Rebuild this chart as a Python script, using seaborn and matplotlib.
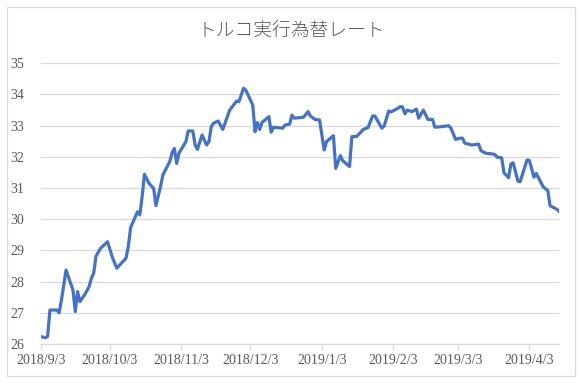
import matplotlib
matplotlib.use("Agg")
import matplotlib.pyplot as plt
import matplotlib.dates as mdates
import matplotlib.patches as mpatches
from matplotlib.ticker import FuncFormatter, FixedLocator
import seaborn as sns
import pandas as pd

# ---- data ----
dates = [
    "2018-09-03", "2018-09-05", "2018-09-06", "2018-09-07", "2018-09-10", "2018-09-11",
    "2018-09-12", "2018-09-14", "2018-09-17", "2018-09-18", "2018-09-19", "2018-09-20",
    "2018-09-22", "2018-09-24", "2018-09-25", "2018-09-26", "2018-09-27", "2018-09-29",
    "2018-10-02", "2018-10-04", "2018-10-06", "2018-10-10", "2018-10-11", "2018-10-12",
    "2018-10-15", "2018-10-16", "2018-10-17", "2018-10-18", "2018-10-20", "2018-10-22",
    "2018-10-23", "2018-10-25", "2018-10-26", "2018-10-29", "2018-10-30", "2018-10-31",
    "2018-11-01", "2018-11-02", "2018-11-05", "2018-11-06", "2018-11-08", "2018-11-09",
    "2018-11-10", "2018-11-12", "2018-11-14", "2018-11-15", "2018-11-16", "2018-11-17",
    "2018-11-19", "2018-11-21", "2018-11-24", "2018-11-27", "2018-11-28", "2018-11-30",
    "2018-12-01", "2018-12-04", "2018-12-05", "2018-12-06", "2018-12-07", "2018-12-08",
    "2018-12-11", "2018-12-12", "2018-12-13", "2018-12-17", "2018-12-18", "2018-12-20",
    "2018-12-21", "2018-12-22", "2018-12-26", "2018-12-28", "2018-12-29", "2018-12-31",
    "2019-01-02", "2019-01-04", "2019-01-05", "2019-01-08", "2019-01-09", "2019-01-11",
    "2019-01-12", "2019-01-15", "2019-01-16", "2019-01-18", "2019-01-21", "2019-01-23",
    "2019-01-25", "2019-01-26", "2019-01-29", "2019-01-30", "2019-02-01", "2019-02-02",
    "2019-02-05", "2019-02-06", "2019-02-07", "2019-02-08", "2019-02-09", "2019-02-11",
    "2019-02-13", "2019-02-14", "2019-02-16", "2019-02-18", "2019-02-20", "2019-02-21",
    "2019-02-24", "2019-02-27", "2019-02-28", "2019-03-02", "2019-03-04", "2019-03-05",
    "2019-03-06", "2019-03-09", "2019-03-12", "2019-03-13", "2019-03-15", "2019-03-19",
    "2019-03-20", "2019-03-22", "2019-03-23", "2019-03-25", "2019-03-26", "2019-03-27",
    "2019-03-29", "2019-03-30", "2019-04-02", "2019-04-03", "2019-04-05", "2019-04-06",
    "2019-04-09", "2019-04-11", "2019-04-12", "2019-04-15", "2019-04-16",
]
rates = [
    26.24, 26.20, 26.24, 27.09, 27.09, 27.00,
    27.41, 28.37, 27.73, 27.04, 27.68, 27.36,
    27.57, 27.84, 28.11, 28.27, 28.82, 29.07,
    29.28, 28.80, 28.43, 28.75, 29.12, 29.73,
    30.24, 30.14, 30.72, 31.44, 31.15, 30.99,
    30.44, 31.05, 31.42, 31.85, 32.13, 32.27,
    31.79, 32.12, 32.49, 32.83, 32.83, 32.38,
    32.24, 32.70, 32.38, 32.49, 32.97, 33.08,
    33.15, 32.88, 33.50, 33.79, 33.77, 34.20,
    34.14, 33.66, 32.81, 33.10, 32.88, 33.10,
    33.29, 32.79, 32.95, 32.92, 33.02, 33.05,
    33.34, 33.24, 33.27, 33.45, 33.31, 33.20,
    33.18, 32.22, 32.49, 32.68, 31.63, 32.04,
    31.88, 31.69, 32.65, 32.65, 32.88, 32.94,
    33.31, 33.31, 32.92, 32.99, 33.47, 33.44,
    33.56, 33.61, 33.60, 33.38, 33.50, 33.45,
    33.53, 33.24, 33.50, 33.20, 33.20, 32.95,
    32.97, 33.00, 32.92, 32.56, 32.60, 32.60,
    32.44, 32.38, 32.41, 32.20, 32.12, 32.08,
    31.99, 31.97, 31.49, 31.33, 31.77, 31.81,
    31.23, 31.20, 31.90, 31.89, 31.35, 31.47,
    31.04, 30.92, 30.43, 30.32, 30.24,
]
title_text = "トルコ実行為替レート"
tick_dates = ["2018-09-03", "2018-10-03", "2018-11-03", "2018-12-03",
              "2019-01-03", "2019-02-03", "2019-03-03", "2019-04-03"]
y_ticks = [26, 27, 28, 29, 30, 31, 32, 33, 34, 35]

df = pd.DataFrame({"date": pd.to_datetime(dates), "rate": rates})

sns.set_theme(style="white")
plt.rcParams["font.family"] = ["Liberation Serif", "Noto Sans CJK JP", "DejaVu Sans"]

fig = plt.figure(figsize=(5.82, 3.83), dpi=100)
ax = fig.add_axes([40.7 / 582, 1 - 344 / 383, (559.3 - 40.7) / 582, (344 - 63.3) / 383])

sns.lineplot(data=df, x="date", y="rate", ax=ax, color="#4472C4", linewidth=2.3)

ax.set_xlim(pd.Timestamp("2018-09-03"), pd.Timestamp("2019-04-16"))
ax.set_ylim(26, 35)
ax.set_yticks(y_ticks)
ax.xaxis.set_major_locator(FixedLocator(mdates.date2num(pd.to_datetime(tick_dates))))
ax.xaxis.set_major_formatter(FuncFormatter(
    lambda v, p: (lambda d: f"{d.year}/{d.month}/{d.day}")(mdates.num2date(v))))

ax.grid(axis="y", color="#D9D9D9", linewidth=0.9)
ax.grid(axis="x", visible=False)
ax.set_axisbelow(True)
for s in ["top", "right", "left"]:
    ax.spines[s].set_visible(False)
ax.spines["bottom"].set_color("#D9D9D9")
ax.spines["bottom"].set_linewidth(0.9)
ax.tick_params(axis="x", direction="out", length=4, width=0.9, color="#D9D9D9",
               labelsize=10, labelcolor="#595959", pad=3, bottom=True)
ax.tick_params(axis="y", length=0, labelsize=10, labelcolor="#595959", pad=12)
ax.set_xlabel("")
ax.set_ylabel("")

fig.text(0.5, 1 - 31 / 383, title_text, ha="center", va="center", fontsize=13.5,
         color="#595959", family=["Noto Sans CJK JP", "DejaVu Sans"], fontweight="light")

fig.patches.append(mpatches.Rectangle((7 / 582, 7 / 383), 568 / 582, 369 / 383,
                                      transform=fig.transFigure, fill=False,
                                      edgecolor="#D9D9D9", linewidth=0.9))

fig.savefig("out.png", dpi=100, facecolor="white")
